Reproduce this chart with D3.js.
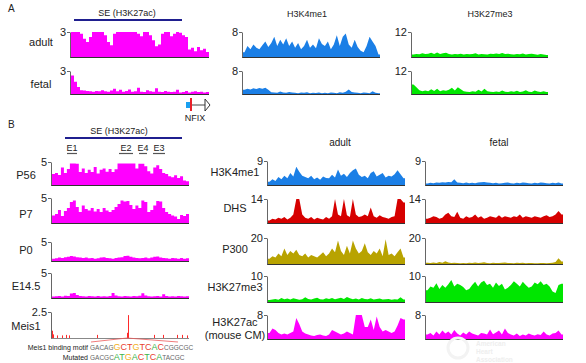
<!DOCTYPE html>
<html>
<head>
<meta charset="utf-8">
<script src="https://cdn.jsdelivr.net/npm/d3@7"></script>
<style>
  body { margin: 0; background: #fff; }
  svg text { font-family: "Liberation Sans", Arial, sans-serif; fill: #222; }
</style>
</head>
<body>
<svg id="fig" width="586" height="363"></svg>
<script>
// ---------- DATA (signal per bin) ----------
// panel A, H3K27ac (scale 3)
const aAdultK27ac = [3,3,3,2.8,2.2,1.8,2.4,3,3,3,3,2.6,1.8,1.4,2.8,3,3,3,3,3,3,3,2.8,2.5,3,3,2.6,2.0,1.3,1.5,2.8,3,3,2.5,2.8,3,2.9,2.6,2.4,0.9,1.1,0.7,1.2,0.8,1.0,0.6];
const aFetalK27ac = [2.4,1.6,0.9,0.5,0.45,0.4,0.35,0.3,0.4,0.35,0.5,0.35,0.3,0.45,0.7,0.35,0.55,0.3,0.4,0.6,0.3,0.35,0.8,0.3,0.25,0.5,0.35,0.3,0.75,0.3,0.25,0.4,0.3,0.25,0.3,0.55,0.2,0.25,0.4,0.2,0.3,0.35,0.25,0.3,0.2,0.25];
// panel A, H3K4me1 (scale 8)
const aAdultK4me1 = [1.5,3.5,2.5,4,3,2.5,3.8,5,3.2,4.5,6.5,3.5,5.5,4,6,3.5,5,3,4.5,2.5,3.5,5.5,3,4,2.8,6,4.2,3.5,5,2.5,4,7,3.5,6.5,7.5,4,3,5.5,3.2,2,1.5,3.5,6.5,5,3.5,0.8];
const aFetalK4me1 = [1.5,1.8,1.6,2,1.7,2.1,1.8,2.2,1.5,0.6,0.5,0.4,0.9,0.5,0.4,0.7,0.5,0.4,0.3,0.5,0.4,0.6,0.3,0.4,0.35,0.5,0.3,0.4,0.3,0.5,0.4,0.3,0.6,0.4,0.8,1.6,0.7,0.5,0.4,0.3,0.5,0.4,0.3,1.0,0.4,0.3];
// panel A, H3K27me3 (scale 12)
const aAdultK27me3 = [1.2,1.5,1.3,1.8,1.4,1.6,2.0,1.5,2.2,1.4,1.8,2.0,1.5,1.2,1.4,1.3,1.6,1.2,1.5,1.3,1.4,1.8,1.2,1.5,1.3,1.2,1.6,1.4,1.7,1.5,1.9,1.4,1.6,1.3,1.2,1.5,1.3,1.7,1.2,1.4,1.6,1.3,1.1,1.5,1.2,1.0];
const aFetalK27me3 = [5,3.5,2,1.5,1.8,1.4,2.5,1.6,2.8,1.5,2,1.7,2.2,3.2,1.8,3.5,2.5,1.5,1.2,1.0,1.4,1.2,2.2,1.3,2.8,1.5,1.2,1.0,1.3,1.1,1.8,1.2,1.0,1.5,1.2,1.7,1.1,1.3,2.0,1.2,1.1,1.8,1.3,1.0,1.4,1.1];

// panel B, H3K27ac time course (scale 5)
const bP56 = [2.4,2.6,2.2,3.8,2.6,3.5,4.7,4.7,4.6,2.8,3.6,2.6,3.3,2.8,3.9,2.5,3.3,3.6,2.9,3.5,2.8,3.4,4.7,4.7,4.7,4.7,4.7,4.7,3.6,4.6,4.6,4.1,3.0,2.5,3.8,4.3,3.5,2.6,2.4,1.9,1.7,2.1,1.5,1.9,1.0,0.8];
const bP7 = [1.5,1.8,2.6,1.4,2.4,3,4.2,4.5,3.2,2.2,3.5,2.8,2.5,3,2.3,2.8,2.2,3,2.5,2.2,2.6,3.2,3.8,4.5,4.3,4.4,3.6,2.8,3.5,3,4.5,4.2,2.2,2.6,3.5,4.4,4.3,3,2.2,1.8,1.5,1.3,0.8,1.6,1.4,1.8];
const bP0 = [0.6,0.7,0.9,0.8,1.0,1.1,1.3,1.2,1.0,0.9,0.8,0.9,0.7,0.8,0.6,0.7,0.9,1.0,0.8,0.7,0.6,0.8,0.9,1.0,1.3,1.4,1.1,0.9,0.8,0.7,0.8,0.9,0.7,0.9,1.1,1.2,0.9,0.8,0.7,0.6,0.8,0.7,0.6,0.8,0.6,0.7];
const bE145 = [0.3,0.35,0.4,0.3,0.45,0.4,0.9,1.0,0.6,0.4,0.35,0.3,0.4,0.35,0.3,0.4,0.3,0.35,0.3,0.4,1.0,0.5,0.35,0.3,0.4,0.35,0.3,0.4,0.35,0.45,0.95,0.5,0.35,0.3,0.35,0.4,0.3,0.75,0.4,0.3,0.35,0.3,0.4,0.35,0.3,0.35];
// Meis1 ChIP peaks (scale 2.5): position along the locus (0-137) and height
const meisPos = [0,1,5,10,14,17,45,75,76,102,111,125,130,135];
const meisVal = [0.7,0.35,0.25,0.25,0.3,0.25,0.3,0.5,2.2,0.3,0.3,0.3,0.3,0.25];

// panel B, adult vs fetal heart
const bAdultK4me1 = [1.2,2.2,1.5,3,2.2,3.5,2.5,4.5,3.2,6.8,5,3.5,3,2.5,3.5,2.2,2.8,2,3.2,2.6,2.5,3.8,2.8,5.8,3.5,4.2,3,4.5,5.5,6.2,3.8,3,3.5,2.5,4.5,5.2,3.2,3.8,4.5,2.8,3.5,3.2,4,5.5,4,2.5];
const bFetalK4me1 = [0.6,0.8,0.7,0.9,0.8,1.0,0.9,1.1,1.0,2.2,0.9,0.8,0.7,0.9,0.7,0.8,0.7,0.9,1.0,1.1,0.9,0.8,0.7,0.8,0.6,0.7,0.8,0.9,0.7,0.6,0.8,0.7,0.9,0.8,0.7,0.6,0.8,0.7,0.9,0.8,0.7,0.6,0.8,0.7,0.9,0.6];
const bAdultDHS = [1.5,2.5,2,3,2.5,3.5,2,3,5,14,14,5,3,2.5,3.5,2,3,2.5,2,3.5,2.5,4,14,5,4,14,4.5,3.5,14,5,3.5,4,5,4,9,4,3,4.5,3.5,3,2.5,3.5,4,14,14,12];
const bFetalDHS = [2.5,3,4,3.5,2.5,3,5,6,4,3.5,6.5,3,2.5,4,3,3.5,5,3,4,2.5,3,4,3.5,3,4.5,3,4,3.5,3,4,3.5,5,3,4,3.5,3,4,3.5,3,4,4.5,3.5,4,5,7,5];
const bAdultP300 = [4,6,5,8,6,12,7,10,8,11,7,6,8,5,7,6,5,7,9,6,8,12,9,18,10,7,14,8,18,12,8,10,16,9,7,10,8,12,6,19,7,8,6,9,12,5];
const bFetalP300 = [1,0.8,1.2,0.7,1.5,1.0,2.2,1.2,0.8,1.0,0.7,0.6,0.8,0.5,1.0,0.8,1.2,0.7,0.9,1.3,0.8,0.6,1.0,0.8,0.7,0.9,1.1,0.7,0.8,0.6,0.9,0.7,1.0,0.6,0.8,0.7,0.5,0.6,0.8,0.7,0.6,0.8,0.9,1.5,4.5,2];
const bAdultK27me3 = [0.8,1.0,1.2,0.9,1.5,1.1,1.3,1.0,1.4,1.2,0.9,1.1,1.8,1.2,1.0,1.3,1.6,1.1,1.0,1.4,1.2,1.5,1.1,1.3,1.6,1.2,1.9,1.4,1.1,1.3,1.0,1.5,1.2,1.1,1.4,1.0,1.2,1.3,1.0,1.1,1.2,0.9,1.1,1.0,1.8,1.0];
const bFetalK27me3 = [4.5,6,5.5,7.2,5,6.5,5.5,6.8,8.5,6,7,6.5,5.8,4.5,5,6.5,7.8,6,7.5,8.2,6.5,7,5.5,7.5,6.2,7,4.8,5.5,6.5,8,7,6,7.8,6.5,5.5,6,7.5,6.8,8,6.5,7,6,4,3.5,6.5,7];
const bAdultK27ac = [2,3.5,3,2,1.5,1.8,1.5,2,2.5,7,5,2.5,1.8,1.5,1.2,1,1.3,1.5,1.2,1,1.5,3,2.5,2,1.5,1.8,2.5,2,1.5,8,8,8,4,4,6.5,3,7.5,4,2.5,3,2.5,2,2.5,4.5,7,6.5];
const bFetalK27ac = [1.5,2,1.2,2.5,1.5,2.8,1.8,2.5,1.5,3,1.8,1.2,2.2,1.5,2.5,1.8,1.5,1.2,2,1.8,1.5,3.2,1.6,2.2,2.8,1.5,3.5,2,1.5,1.2,1.8,1,1.5,1.2,1.8,1.4,1.2,1.6,1.3,2.5,1.5,1.2,1.8,2,2.8,1.5];

const motifWT  = ["GACAG", "GCTGTCAC", "CGGCGC"];
const motifMut = ["GACGC", "ATGACTCA", "TACGC"];

// ---------- COLOURS ----------
const MAG = "#ff00ff", BLUE = "#1b7fe6", GREEN = "#00e600", RED = "#d60000", OLIVE = "#b8a300";
const baseColor = { A: "#3cb44b", C: "#e8402f", G: "#f2b01e", T: "#e8402f" };
const mutColor  = { A: "#3cb44b", C: "#e8402f", G: "#f2b01e", T: "#3cb44b" };

const svg = d3.select('#fig');

// step = blocky plateau tracks, otherwise a spiky line through bin centres
function drawTrack(t) {
  const n = t.values.length;
  const x = d3.scaleLinear().domain([0, n]).range([t.x0 + 1, t.x1]);
  const y = d3.scaleLinear().domain([0, t.max]).range([t.base, t.top]);
  let pts, curve;
  if (t.step) {
    pts = t.values.map((v, i) => [i, v]).concat([[n, t.values[n - 1]]]);
    curve = d3.curveStepAfter;
  } else {
    pts = [[0, t.values[0]]].concat(t.values.map((v, i) => [i + 0.5, v]), [[n, t.values[n - 1]]]);
    curve = d3.curveLinear;
  }
  const area = d3.area()
    .curve(curve)
    .x(d => x(d[0]))
    .y0(y(0))
    .y1(d => y(Math.min(d[1], t.max)));
  svg.append('path').datum(pts).attr('d', area).attr('fill', t.color);
  svg.append('line')
    .attr('x1', t.x0).attr('x2', t.x1)
    .attr('y1', t.base + 0.5).attr('y2', t.base + 0.5)
    .attr('stroke', '#333').attr('stroke-width', 1.2);
  drawAxis(t.x0, y, t.max);
}

function drawAxis(x0, y, max) {
  const ax = svg.append('g')
    .attr('transform', `translate(${x0},0)`)
    .call(d3.axisLeft(y).tickValues([max]).tickSize(3).tickSizeOuter(0).tickPadding(1).tickFormat(d => d));
  ax.select('.domain').attr('stroke', '#666');
  ax.selectAll('.tick line').attr('stroke', '#666');
  ax.selectAll('text')
    .attr('font-size', 11)
    .attr('font-family', '"Liberation Sans", Arial, sans-serif')
    .attr('fill', '#222');
}

function label(txt, x, y, size, anchor) {
  return svg.append('text')
    .attr('x', x).attr('y', y)
    .attr('font-size', size)
    .attr('text-anchor', anchor || 'middle')
    .text(txt);
}

// ---------- PANEL A ----------
label('A', 8, 12, 10, 'start');
label('SE (H3K27ac)', 127, 16, 9);
svg.append('line').attr('x1', 74).attr('x2', 182).attr('y1', 20).attr('y2', 20)
  .attr('stroke', '#1f1f8f').attr('stroke-width', 2);
label('H3K4me1', 307, 17, 9);
label('H3K27me3', 490, 17, 9);
label('adult', 41, 46, 11);
label('fetal', 41, 88, 11);

const colsA = [
  { x0: 70,  x1: 209, max: 3,  color: MAG,   step: true,  adult: aAdultK27ac,  fetal: aFetalK27ac },
  { x0: 242, x1: 380, max: 8,  color: BLUE,  step: false, adult: aAdultK4me1,  fetal: aFetalK4me1 },
  { x0: 411, x1: 548, max: 12, color: GREEN, step: false, adult: aAdultK27me3, fetal: aFetalK27me3 }
];
colsA.forEach(c => {
  drawTrack({ x0: c.x0, x1: c.x1, top: 32, base: 57, max: c.max, color: c.color, step: c.step, values: c.adult });
  drawTrack({ x0: c.x0, x1: c.x1, top: 71, base: 94, max: c.max, color: c.color, step: c.step, values: c.fetal });
});

// NFIX gene model
svg.append('rect').attr('x', 186).attr('y', 102).attr('width', 5).attr('height', 6).attr('fill', '#1aa0f0');
svg.append('line').attr('x1', 191).attr('x2', 191).attr('y1', 98).attr('y2', 111).attr('stroke', '#e8202a').attr('stroke-width', 2);
svg.append('line').attr('x1', 192).attr('x2', 205).attr('y1', 105).attr('y2', 105).attr('stroke', '#444');
svg.append('path').attr('d', 'M205,99 L210,105 L205,111 Z').attr('fill', '#fff').attr('stroke', '#333');
label('NFIX', 195, 121, 9);

// ---------- PANEL B ----------
label('B', 8, 128, 10, 'start');
label('SE (H3K27ac)', 119, 134, 9);
svg.append('line').attr('x1', 65).attr('x2', 182).attr('y1', 138).attr('y2', 138)
  .attr('stroke', '#1f1f8f').attr('stroke-width', 2);
const enh = [['E1', 67, 77], ['E2', 119, 133], ['E4', 139, 147], ['E3', 153, 165]];
enh.forEach(e => {
  label(e[0], (e[1] + e[2]) / 2, 151, 9);
  svg.append('line').attr('x1', e[1]).attr('x2', e[2]).attr('y1', 153.5).attr('y2', 153.5)
    .attr('stroke', '#555').attr('stroke-width', 1.2);
});

const leftB = [
  { name: 'P56',   top: 162, base: 185, ly: 179, values: bP56 },
  { name: 'P7',    top: 198, base: 223, ly: 218, values: bP7 },
  { name: 'P0',    top: 242, base: 261, ly: 254, values: bP0 },
  { name: 'E14.5', top: 273, base: 298, ly: 290, values: bE145 }
];
leftB.forEach(r => {
  drawTrack({ x0: 51, x1: 189, top: r.top, base: r.base, max: 5, color: MAG, step: true, values: r.values });
  label(r.name, 26, r.ly, 11);
});

// Meis1 ChIP-seq sticks
const meisX = d3.scaleLinear().domain([0, 137]).range([52, 189]);
const meisY = d3.scaleLinear().domain([0, 2.5]).range([338, 312]);
svg.selectAll('line.meis').data(meisPos).enter().append('line')
  .attr('class', 'meis')
  .attr('x1', d => meisX(d) + 0.5).attr('x2', d => meisX(d) + 0.5)
  .attr('y1', meisY(0)).attr('y2', (d, i) => meisY(meisVal[i]))
  .attr('stroke', '#ff2a2a').attr('stroke-width', 1);
svg.append('line').attr('x1', 51).attr('x2', 189).attr('y1', 338.5).attr('y2', 338.5).attr('stroke', '#888');
drawAxis(51, meisY, 2.5);
label('Meis1', 26, 330, 11);

// motif callout
svg.append('path').attr('d', 'M91,342 L127,338 L178,342').attr('fill', 'none')
  .attr('stroke', '#ec5a5a').attr('stroke-width', 0.8);
label('Meis1 binding motif', 88, 350, 7, 'end');
label('Mutated', 88, 360, 7, 'end');

function drawSeq(parts, y, colors) {
  const t = svg.append('text').attr('x', 90).attr('y', y).attr('font-size', 6.5);
  t.append('tspan').attr('fill', '#666').text(parts[0]);
  t.append('tspan').attr('font-size', 9);
  parts[1].split('').forEach(ch => {
    t.append('tspan').attr('font-size', 9).attr('fill', colors[ch]).text(ch);
  });
  t.append('tspan').attr('fill', '#666').text(parts[2]);
}
drawSeq(motifWT, 350, baseColor);
drawSeq(motifMut, 360, mutColor);

// adult vs fetal columns
label('adult', 340, 146, 10);
label('fetal', 499, 146, 10);

const rowsB = [
  { name: ['H3K4me1'],               top: 161, base: 185, max: 9,  color: BLUE,  adult: bAdultK4me1,  fetal: bFetalK4me1,  ly: 176 },
  { name: ['DHS'],                   top: 199, base: 223, max: 14, color: RED,   adult: bAdultDHS,    fetal: bFetalDHS,    ly: 212 },
  { name: ['P300'],                  top: 238, base: 264, max: 20, color: OLIVE, adult: bAdultP300,   fetal: bFetalP300,   ly: 253 },
  { name: ['H3K27me3'],              top: 276, base: 302, max: 10, color: GREEN, adult: bAdultK27me3, fetal: bFetalK27me3, ly: 291 },
  { name: ['H3K27ac', '(mouse CM)'], top: 315, base: 339, max: 8,  color: MAG,   adult: bAdultK27ac,  fetal: bFetalK27ac,  ly: 326 }
];
rowsB.forEach(r => {
  drawTrack({ x0: 267, x1: 405, top: r.top, base: r.base, max: r.max, color: r.color, values: r.adult });
  drawTrack({ x0: 425, x1: 563, top: r.top, base: r.base, max: r.max, color: r.color, values: r.fetal });
  r.name.forEach((nm, i) => label(nm, 235, r.ly + i * 13, 11));
});

// faint journal watermark
svg.append('circle').attr('cx', 458).attr('cy', 348).attr('r', 10).attr('fill', 'none')
  .attr('stroke', '#f3f3f3').attr('stroke-width', 3);
['American', 'Heart', 'Association'].forEach((w, i) => {
  svg.append('text').attr('x', 476).attr('y', 346 + i * 8).attr('font-size', 6.5)
    .style('fill', '#eeeeee').attr('font-weight', 'bold').text(w);
});
</script>
</body>
</html>
